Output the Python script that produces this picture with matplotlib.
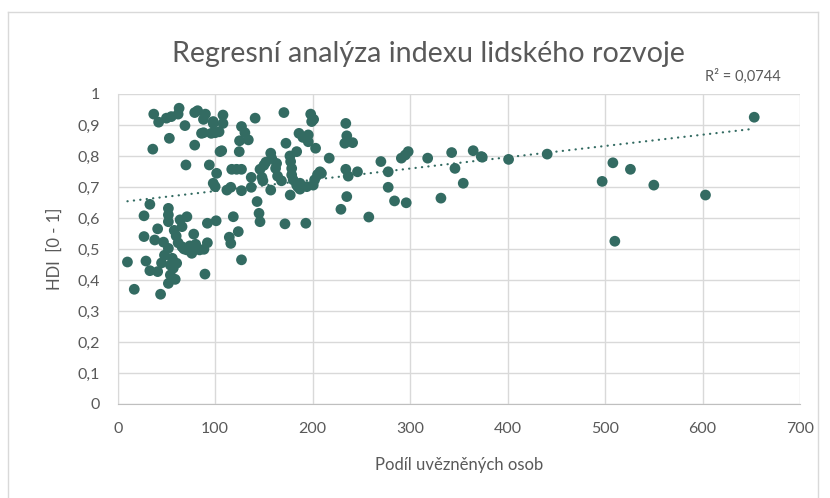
import numpy as np
import matplotlib
matplotlib.use("Agg")
import matplotlib.pyplot as plt
from matplotlib.lines import Line2D

# Podíl uvězněných osob (x) a HDI (y)
prisoners = [
    37, 42, 50, 55, 63, 62, 79, 82, 88, 69, 86, 98, 96, 53, 79, 36, 105, 70, 94, 101.5,
    100, 33, 52, 27, 52, 52, 64, 71, 66, 92, 101, 41, 27, 38, 47, 52, 60, 78, 66, 71,
    76, 84, 92, 10, 29, 33, 41, 54, 57, 60.5, 54, 59, 52, 89.5, 17, 44, 90, 108, 98, 108,
    88, 100, 104, 141, 170.5, 198, 199, 127, 130.5, 186, 195.5, 195.5, 134, 125, 203, 172.6, 183.6, 106.7, 124.7, 157,
    158, 163, 176.7, 177.4, 178.5, 178.5, 180, 183.6, 187, 194, 202, 207.5, 117, 122, 127, 146, 137, 148, 164, 98,
    116, 127, 137, 149, 157, 177, 143, 145, 146, 118.6, 114.5, 116, 123.7, 88.5, 127, 171.6, 193, 201, 234, 235,
    233, 241, 217, 270, 291, 295, 298, 318, 342.6, 364.7, 373, 346, 209, 234, 236.5, 246, 277.5, 277.5, 354.5, 235,
    284, 296, 331.6, 229, 257.6, 187, 200.6, 374, 401, 440.6, 653, 508, 526, 497, 550, 603, 510,
    56, 62, 48, 58, 68, 74, 45, 80, 112, 152, 168, 185, 190, 205, 150, 162,
]
hdi = [
    0.935, 0.909, 0.922, 0.927, 0.954, 0.935, 0.940, 0.946, 0.918, 0.898, 0.873, 0.905, 0.873, 0.857, 0.835, 0.822, 0.814, 0.771, 0.771, 0.744,
    0.701, 0.644, 0.631, 0.607, 0.610, 0.588, 0.594, 0.604, 0.572, 0.583, 0.591, 0.565, 0.540, 0.529, 0.522, 0.502, 0.542, 0.548, 0.507, 0.497,
    0.486, 0.497, 0.520, 0.458, 0.461, 0.430, 0.427, 0.448, 0.438, 0.454, 0.416, 0.402, 0.389, 0.419, 0.370, 0.354, 0.935, 0.932, 0.911, 0.905,
    0.875, 0.875, 0.878, 0.922, 0.940, 0.935, 0.911, 0.895, 0.875, 0.873, 0.868, 0.846, 0.852, 0.849, 0.825, 0.841, 0.814, 0.817, 0.814, 0.809,
    0.792, 0.776, 0.800, 0.782, 0.760, 0.739, 0.723, 0.706, 0.693, 0.701, 0.723, 0.749, 0.757, 0.757, 0.757, 0.757, 0.731, 0.731, 0.735, 0.712,
    0.699, 0.688, 0.699, 0.720, 0.690, 0.674, 0.653, 0.615, 0.588, 0.604, 0.538, 0.518, 0.556, 0.499, 0.465, 0.581, 0.583, 0.918, 0.905, 0.865,
    0.841, 0.843, 0.793, 0.782, 0.793, 0.803, 0.814, 0.793, 0.811, 0.817, 0.798, 0.760, 0.744, 0.757, 0.735, 0.749, 0.749, 0.699, 0.712, 0.669,
    0.655, 0.649, 0.664, 0.628, 0.603, 0.712, 0.706, 0.796, 0.789, 0.806, 0.925, 0.778, 0.757, 0.718, 0.706, 0.674, 0.525,
    0.470, 0.520, 0.480, 0.560, 0.500, 0.510, 0.455, 0.515, 0.690, 0.780, 0.720, 0.700, 0.860, 0.740, 0.770, 0.760,
]

x_ticks = [0, 100, 200, 300, 400, 500, 600, 700]
y_ticks = [0, 0.1, 0.2, 0.3, 0.4, 0.5, 0.6, 0.7, 0.8, 0.9, 1.0]

plt.rcParams['font.family'] = ['Lato', 'DejaVu Sans']
point_color = '#336B62'
text_color = '#595959'

fig = plt.figure(figsize=(8.3, 4.98), dpi=100)
ax = fig.add_axes([0.1418, 0.1888, 0.8221, 0.6225])

# outer chart frame like Excel
fig.add_artist(Line2D([8 / 830, 8 / 830], [0, 1 - 12 / 498], transform=fig.transFigure, color='#D9D9D9', lw=1))
fig.add_artist(Line2D([8 / 830, 818 / 830], [1 - 12 / 498, 1 - 12 / 498], transform=fig.transFigure, color='#D9D9D9', lw=1))
fig.add_artist(Line2D([818 / 830, 818 / 830], [0, 1 - 12 / 498], transform=fig.transFigure, color='#D9D9D9', lw=1))

ax.scatter(prisoners, hdi, s=60, color=point_color, edgecolors='none', zorder=3)

# linear trendline
xs = np.array(prisoners)
ys = np.array(hdi)
k, q = np.polyfit(xs, ys, 1)
tx = np.array([xs.min(), xs.max()])
ax.plot(tx, k * tx + q, color=point_color, lw=1.6, linestyle=(0, (0.1, 2.8)),
        dash_capstyle='round', zorder=2)

ax.set_xlim(0, 700)
ax.set_ylim(0, 1)
ax.set_xticks(x_ticks)
ax.set_yticks(y_ticks)
ax.set_xticklabels([str(v) for v in x_ticks])
ax.set_yticklabels([('%g' % v).replace('.', ',') for v in y_ticks])
ax.tick_params(length=0, labelsize=11.5, colors=text_color, pad=13)
ax.grid(True, color='#D9D9D9', lw=1)
ax.set_axisbelow(True)
for side in ['right', 'top']:
    ax.spines[side].set_visible(False)
ax.spines['left'].set_color('#D9D9D9')
ax.spines['bottom'].set_color('#BFBFBF')

ax.set_xlabel('Podíl uvězněných osob', fontsize=12, color=text_color, labelpad=15)
ax.set_ylabel('HDI  [0 - 1]', fontsize=12, color=text_color, labelpad=10)

fig.text(0.516, 0.892, 'Regresní analýza indexu lidského rozvoje', ha='center', va='center',
         fontsize=20.6, color=text_color)
fig.text(0.895, 0.847, 'R² = 0,0744', ha='center', va='center', fontsize=10.5, color=text_color)

fig.savefig('out.png', dpi=100)
